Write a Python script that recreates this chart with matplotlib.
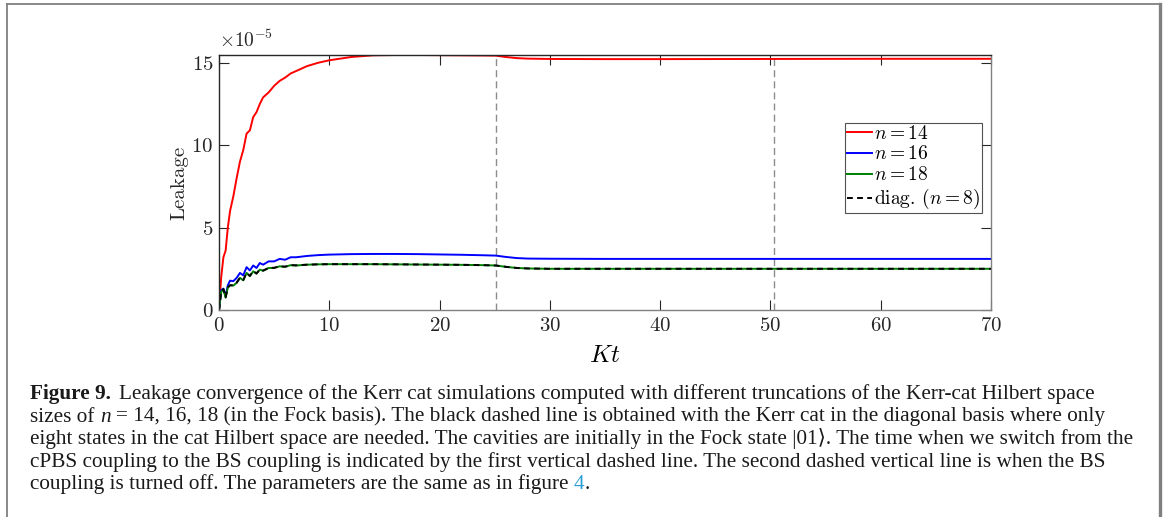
import matplotlib
matplotlib.use("Agg")
import matplotlib.pyplot as plt
from matplotlib.transforms import IdentityTransform
from matplotlib.lines import Line2D

# ---------------- data ----------------
t = [0, 0.2, 0.4, 0.6, 0.8, 1.0, 1.3, 1.6, 1.9, 2.2, 2.5, 2.8, 3.1, 3.4, 3.7,
     4.0, 4.5, 5.0, 5.5, 6.0, 6.5, 7.0, 8, 9, 10, 12, 14, 16, 18, 20, 22, 24,
     25.1, 26, 27, 28, 30, 35, 40, 50, 60, 70]
leak_n14 = [0, 2.0, 3.2, 3.6, 5.0, 6.0, 6.9, 8.0, 9.0, 9.7, 10.7, 10.9, 11.7,
            12.0, 12.5, 12.9, 13.2, 13.6, 13.9, 14.1, 14.35, 14.5, 14.8, 15.0,
            15.15, 15.35, 15.45, 15.47, 15.47, 15.46, 15.45, 15.44, 15.43,
            15.35, 15.28, 15.25, 15.23, 15.22, 15.22, 15.23, 15.24, 15.24]
leak_n16 = [0, 1.2, 1.3, 0.85, 1.5, 1.78, 1.75, 1.95, 2.25, 2.1, 2.6, 2.4, 2.7,
            2.55, 2.85, 2.75, 2.95, 2.95, 3.1, 3.05, 3.2, 3.2, 3.28, 3.33, 3.36,
            3.39, 3.40, 3.40, 3.39, 3.37, 3.35, 3.32, 3.30, 3.22, 3.15, 3.12,
            3.11, 3.10, 3.10, 3.10, 3.10, 3.10]
leak_n18 = [0, 1.1, 1.25, 0.75, 1.35, 1.5, 1.48, 1.65, 1.95, 1.8, 2.25, 2.05,
            2.35, 2.2, 2.45, 2.38, 2.55, 2.55, 2.65, 2.62, 2.72, 2.7, 2.75, 2.77,
            2.78, 2.78, 2.78, 2.77, 2.76, 2.75, 2.74, 2.72, 2.70, 2.62, 2.55,
            2.52, 2.50, 2.50, 2.50, 2.50, 2.50, 2.50]
leak_diag = [0, 1.1, 1.27, 0.77, 1.37, 1.5, 1.5, 1.66, 1.96, 1.82, 2.25, 2.07,
             2.36, 2.22, 2.46, 2.39, 2.55, 2.56, 2.65, 2.63, 2.72, 2.71, 2.75,
             2.77, 2.78, 2.78, 2.78, 2.77, 2.76, 2.75, 2.74, 2.72, 2.70, 2.62,
             2.55, 2.52, 2.50, 2.50, 2.50, 2.50, 2.50, 2.50]
switch_times = [25.1, 50.3]
series_labels = [r"$n=14$", r"$n=16$", r"$n=18$", r"diag. $(n=8)$"]
x_ticks = [0, 10, 20, 30, 40, 50, 60, 70]
y_ticks = [0, 5, 10, 15]

caption_lines = [
    [("Figure 9.", "bold"), (None, 1.6),
     ("Leakage convergence of the Kerr cat simulations computed with different truncations of the Kerr-cat Hilbert space", "normal")],
    [("sizes of", "normal"), (None, 1), ("n", "italic"), (None, 1),
     ("= 14, 16, 18 (in the Fock basis). The black dashed line is obtained with the Kerr cat in the diagonal basis where only", "normal")],
    [("eight states in the cat Hilbert space are needed. The cavities are initially in the Fock state |01\u27e9. The time when we switch from the", "normal")],
    [("cPBS coupling to the BS coupling is indicated by the first vertical dashed line. The second dashed vertical line is when the BS", "normal")],
    [("coupling is turned off. The parameters are the same as in figure", "normal"), (None, 1),
     ("4", "link"), (".", "normal")],
]

# ---------------- style ----------------
plt.rcParams['font.family'] = 'serif'
plt.rcParams['font.serif'] = ['cmr10']
plt.rcParams['mathtext.fontset'] = 'cm'
plt.rcParams['axes.formatter.use_mathtext'] = True

W, H = 1165, 517
fig = plt.figure(figsize=(W / 100, H / 100), dpi=100)
ax = fig.add_axes([219 / W, 1 - 310 / H, (991 - 219) / W, (310 - 55) / H])

ax.plot(t, leak_n14, color='#ff0000', lw=1.4, label=series_labels[0])
ax.plot(t, leak_n16, color='#0000ff', lw=1.4, label=series_labels[1])
ax.plot(t, leak_n18, color='#008000', lw=1.4, label=series_labels[2])
ax.plot(t, leak_diag, color='black', lw=1.4, ls=(0, (3, 2.2)), label=series_labels[3])
for st in switch_times:
    ax.axvline(st, color='#8c8c8c', lw=1.0, ls=(0, (5, 3)), zorder=0)

ax.set_xlim(0, 70)
ax.set_ylim(0, 15.47)
ax.set_xticks(x_ticks)
ax.set_yticks(y_ticks)
ax.set_xticklabels([f"${v}$" for v in x_ticks])
ax.set_yticklabels([f"${v}$" for v in y_ticks])
ax.tick_params(direction='in', length=7, width=0.8, top=True, right=True,
               labelsize=15, colors='#262626')
ax.tick_params(axis='x', pad=5)
ax.tick_params(axis='y', pad=4)
for s in ['left', 'top']:
    ax.spines[s].set_color('#262626')
for s in ['right', 'bottom']:
    ax.spines[s].set_color('#808080')
for s in ax.spines.values():
    s.set_linewidth(1.0)

ax.set_xlabel(r"$Kt$", fontsize=18, labelpad=7)
ax.set_ylabel("Leakage", fontsize=15, labelpad=2, color='#262626')
ax.text(0.0, 1.015, r"$\times10^{-5}$", transform=ax.transAxes, fontsize=14,
        ha='left', va='bottom', color='#262626')

leg = ax.legend(loc='upper right', bbox_to_anchor=(0.988, 0.735), fontsize=14,
                frameon=True, fancybox=False, edgecolor='#262626',
                handlelength=1.25, handletextpad=0.1, borderpad=0.1,
                labelspacing=0.15, borderaxespad=0)
leg.get_frame().set_linewidth(0.8)

# ---------------- frame around figure ----------------
fig.add_artist(Line2D([7 / W, 7 / W], [0, 1 - 3.5 / H], transform=fig.transFigure,
                      color='#808080', lw=1.3))
fig.add_artist(Line2D([7 / W, 1160 / W], [1 - 3.5 / H, 1 - 3.5 / H],
                      transform=fig.transFigure, color='#808080', lw=1.3))
fig.add_artist(Line2D([1160 / W, 1160 / W], [0, 1 - 3.5 / H], transform=fig.transFigure,
                      color='#808080', lw=2.4))

# ---------------- caption ----------------
fig.canvas.draw()
renderer = fig.canvas.get_renderer()
cap_fam = ['Liberation Serif', 'DejaVu Serif']
cap_size = 15.3

def text_width(s, **kw):
    tt = fig.text(0, 0, s, transform=IdentityTransform(), fontsize=cap_size,
                  family=cap_fam, **kw)
    w = tt.get_window_extent(renderer).width
    tt.remove()
    return w

space_w = text_width("a a") - text_width("aa")
baselines = [399, 421.5, 444, 466.5, 489]
for line, yb in zip(caption_lines, baselines):
    x = 30
    for txt, st in line:
        if txt is None:
            x += space_w * st
            continue
        kw = {}
        if st == 'bold':
            kw['weight'] = 'bold'
        elif st == 'italic':
            kw['style'] = 'italic'
        elif st == 'link':
            kw['color'] = '#2a9fd6'
        tt = fig.text(x, H - yb, txt, transform=IdentityTransform(),
                      fontsize=cap_size, family=cap_fam, va='baseline',
                      color=kw.pop('color', '#1a1a1a'), **kw)
        x += tt.get_window_extent(renderer).width

fig.savefig("out.png", dpi=100)
